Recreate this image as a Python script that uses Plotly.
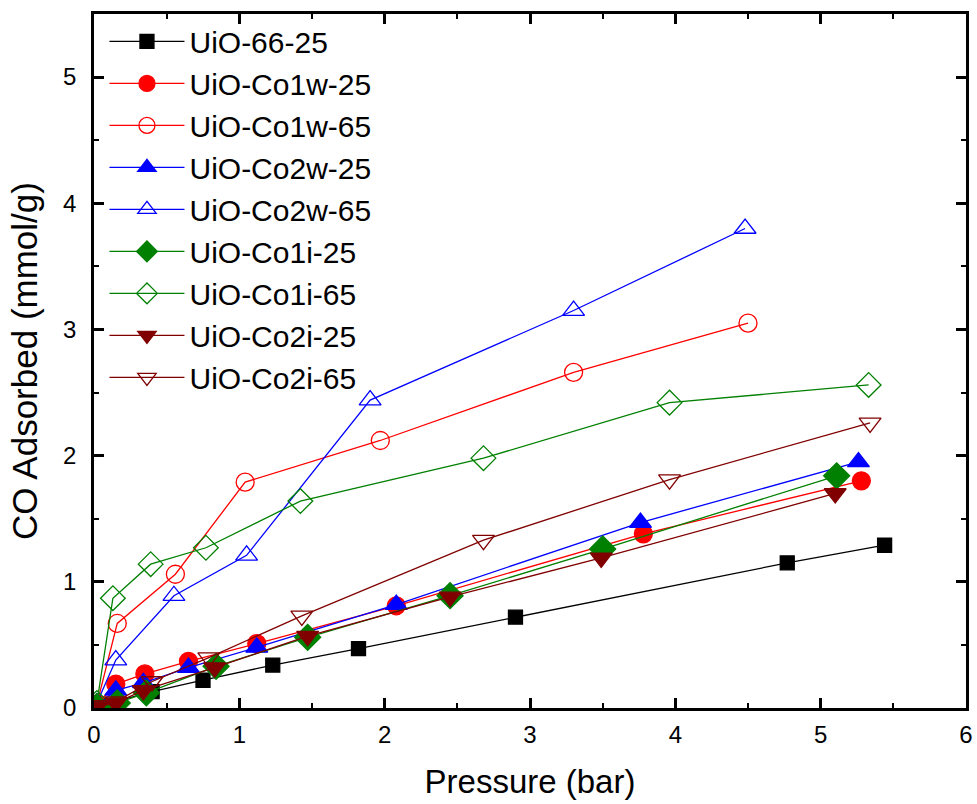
import plotly.graph_objects as go

# Pressure (bar) and CO uptake (mmol/g)
p_66_25 = [0.02, 0.40, 0.75, 1.23, 1.82, 2.90, 4.77, 5.44]
q_66_25 = [0.01, 0.13, 0.22, 0.34, 0.47, 0.72, 1.15, 1.29]

p_co1w_25 = [0.02, 0.15, 0.35, 0.65, 1.12, 2.08, 3.78, 5.28]
q_co1w_25 = [0.03, 0.19, 0.27, 0.37, 0.51, 0.81, 1.38, 1.80]

p_co1w_65 = [0.02, 0.16, 0.56, 1.04, 1.97, 3.30, 4.50]
q_co1w_65 = [0.03, 0.67, 1.06, 1.79, 2.12, 2.66, 3.05]

p_co2w_25 = [0.02, 0.15, 0.34, 0.65, 1.12, 2.08, 3.76, 5.26]
q_co2w_25 = [0.02, 0.14, 0.20, 0.32, 0.48, 0.82, 1.47, 1.95]

p_co2w_65 = [0.02, 0.15, 0.55, 1.05, 1.90, 3.30, 4.48]
q_co2w_65 = [0.04, 0.38, 0.89, 1.21, 2.44, 3.15, 3.80]

p_co1i_25 = [0.02, 0.16, 0.36, 0.84, 1.47, 2.45, 3.50, 5.11]
q_co1i_25 = [0.01, 0.04, 0.12, 0.33, 0.56, 0.89, 1.26, 1.84]

p_co1i_65 = [0.02, 0.13, 0.39, 0.77, 1.42, 2.68, 3.96, 5.33]
q_co1i_65 = [0.04, 0.87, 1.14, 1.27, 1.64, 1.98, 2.42, 2.56]

p_co2i_25 = [0.02, 0.15, 0.34, 0.83, 1.47, 2.45, 3.49, 5.10]
q_co2i_25 = [0.01, 0.04, 0.14, 0.32, 0.57, 0.88, 1.19, 1.70]

p_co2i_65 = [0.02, 0.15, 0.40, 0.79, 1.43, 2.68, 3.96, 5.34]
q_co2i_65 = [0.02, 0.05, 0.21, 0.40, 0.73, 1.33, 1.81, 2.26]

series = [
    ("UiO-66-25", p_66_25, q_66_25, "#000000", "square", 14),
    ("UiO-Co1w-25", p_co1w_25, q_co1w_25, "#FF0000", "circle", 18),
    ("UiO-Co1w-65", p_co1w_65, q_co1w_65, "#FF0000", "circle-open", 18),
    ("UiO-Co2w-25", p_co2w_25, q_co2w_25, "#0000FF", "triangle-up", 19),
    ("UiO-Co2w-65", p_co2w_65, q_co2w_65, "#0000FF", "triangle-up-open", 19),
    ("UiO-Co1i-25", p_co1i_25, q_co1i_25, "#008000", "diamond", 20),
    ("UiO-Co1i-65", p_co1i_65, q_co1i_65, "#008000", "diamond-open", 19),
    ("UiO-Co2i-25", p_co2i_25, q_co2i_25, "#800000", "triangle-down", 19),
    ("UiO-Co2i-65", p_co2i_65, q_co2i_65, "#800000", "triangle-down-open", 19),
]

fig = go.Figure()
for name, x, y, color, symbol, size in series:
    fig.add_trace(go.Scatter(
        x=x, y=y, mode='lines+markers', name=name, legendgroup=name,
        line=dict(color=color, width=1.3),
        marker=dict(symbol=symbol, size=size, color=color,
                    line=dict(color=color, width=1.3)),
    ))

axis_common = dict(
    showline=True, linecolor='black', linewidth=2.5, mirror='ticks',
    ticks='inside', ticklen=10, tickwidth=2.5, tickcolor='black',
    showgrid=False, zeroline=False, automargin=False,
    tickfont=dict(size=24, color='black'),
    minor=dict(ticks='inside', ticklen=5, tickwidth=2, tickcolor='black', dtick=0.5),
)

fig.update_layout(
    width=977, height=804,
    margin=dict(l=94, r=11, t=14, b=96),
    plot_bgcolor='white', paper_bgcolor='white',
    font=dict(family="Liberation Sans, Arial, sans-serif", color='black'),
    xaxis=dict(range=[0, 6], dtick=1, ticklabelstandoff=3,
               title=dict(text='Pressure (bar)', font=dict(size=33), standoff=24),
               **axis_common),
    yaxis=dict(range=[0, 5.5], dtick=1, ticklabelstandoff=10,
               title=dict(text='CO Adsorbed (mmol/g)', font=dict(size=35), standoff=15),
               **axis_common),
    legend=dict(x=0.012, y=0.998, xanchor='left', yanchor='top', font=dict(size=30),
                bgcolor='rgba(0,0,0,0)', tracegroupgap=0, itemwidth=75),
)

# drop the default page margin so the figure sits at the window's corner
fig.write_html("out.html", config={'displayModeBar': False},
               post_script="document.body.style.margin='0';document.body.style.overflow='hidden';")
